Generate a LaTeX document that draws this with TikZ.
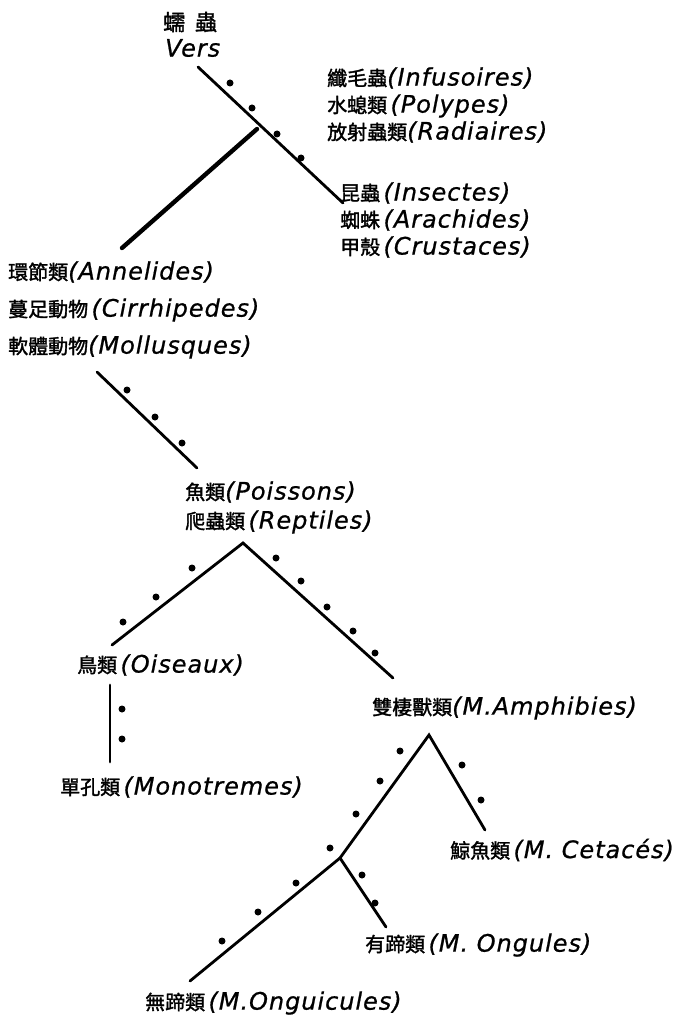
\documentclass[tikz,border=0pt]{standalone}
\usepackage{fontspec}
\newfontfamily\cjk[FakeBold=1.6]{Noto Sans CJK TC}
\newfontfamily\latn[LetterSpace=4,FakeBold=0.8]{DejaVu Sans}
\newcommand{\taxon}[2]{{\cjk\fontsize{20}{22}\selectfont #1}{\latn\itshape\fontsize{24}{26}\selectfont(#2)}}
\begin{document}
\begin{tikzpicture}[x=1pt,y=-1pt]

\tikzstyle{branch} = [line width=2.8pt,line cap=round];
\tikzstyle{taxon} = [anchor=west,inner sep=0pt];
\tikzstyle{seed} = [circle,fill=black,inner sep=0pt,minimum size=7pt];

\useasboundingbox (0,0) rectangle (673,1024);

% labels
\node[taxon] (v0) at (163,22) {\cjk\fontsize{22}{24}\selectfont 蠕\ \ 蟲};
\node[taxon] (v00) at (165,48) {\latn\itshape\fontsize{24}{26}\selectfont Vers};
\node[taxon] (v1) at (327,78) {\taxon{纖毛蟲}{Infusoires}};
\node[taxon] (v2) at (327,106) {\taxon{水螅類\,}{Polypes}};
\node[taxon] (v3) at (327,132) {\taxon{放射蟲類}{Radiaires}};
\node[taxon] (v4) at (340,193) {\taxon{昆蟲\,}{Insectes}};
\node[taxon] (v5) at (340,220) {\taxon{蜘蛛\,}{Arachides}};
\node[taxon] (v6) at (340,247) {\taxon{甲殼\,}{Crustaces}};
\node[taxon] (v7) at (8,272) {\taxon{環節類}{Annelides}};
\node[taxon] (v8) at (8,310) {\taxon{蔓足動物\,}{Cirrhipedes}};
\node[taxon] (v9) at (8,347) {\taxon{軟體動物}{Mollusques}};
\node[taxon] (v10) at (185,492) {\taxon{魚類}{Poissons}};
\node[taxon] (v11) at (185,522) {\taxon{爬蟲類\,}{Reptiles}};
\node[taxon] (v12) at (77,665) {\taxon{鳥類\,}{Oiseaux}};
\node[taxon] (v13) at (60,787) {\taxon{單孔類\,}{Monotremes}};
\node[taxon] (v14) at (372,708) {\taxon{雙棲獸類}{M.Amphibies}};
\node[taxon] (v15) at (450,850) {\taxon{鯨魚類\,}{M. Cetacés}};
\node[taxon] (v16) at (365,945) {\taxon{有蹄類\,}{M. Ongules}};
\node[taxon] (v17) at (145,1003) {\taxon{無蹄類\,}{M.Onguicules}};

% tree points
\coordinate (p1) at (198,67);
\coordinate (p2) at (257,129);
\coordinate (p3) at (343,203);
\coordinate (p4) at (122,248);
\coordinate (p5) at (97,372);
\coordinate (p6) at (197,468);
\coordinate (p7) at (243,543);
\coordinate (p8) at (112,645);
\coordinate (p9) at (393,678);
\coordinate (p10) at (110,685);
\coordinate (p11) at (110,762);
\coordinate (p12) at (429,735);
\coordinate (p13) at (340,858);
\coordinate (p14) at (485,830);
\coordinate (p15) at (190,981);
\coordinate (p16) at (386,927);

\draw[branch] (p1) -- (p3);
\draw[branch,line width=4.4pt] (p2) -- (p4);
\draw[branch] (p5) -- (p6);
\draw[branch] (p8) -- (p7) -- (p9);
\draw[branch] (p10) -- (p11);
\draw[branch] (p13) -- (p12) -- (p14);
\draw[branch] (p13) -- (p15);
\draw[branch] (p13) -- (p16);

% dots
\foreach \d in {(230,83),(252,108),(277,134),(301,158),
                (127,390),(155,417),(182,443),
                (123,622),(156,597),(192,568),
                (276,558),(301,581),(327,607),(353,631),(375,653),
                (122,709),(122,739),
                (400,751),(380,781),(356,814),(330,848),
                (462,765),(481,800),
                (296,883),(258,912),(222,941),
                (362,875),(375,903)}
  \node[seed] at \d {};

\end{tikzpicture}
\end{document}
